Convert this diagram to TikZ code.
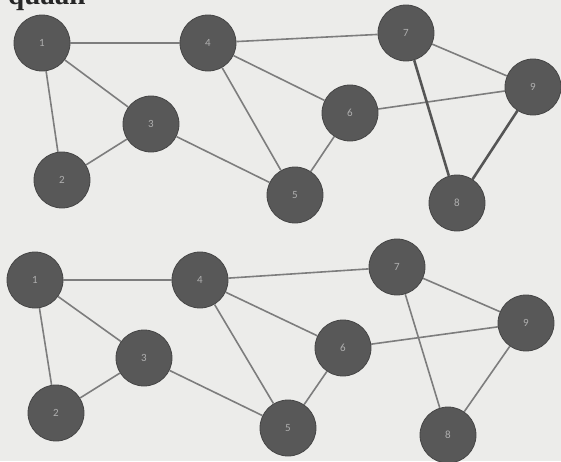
\documentclass[tikz,border=0pt]{standalone}
\usepackage{fontspec}
\setmainfont{Liberation Serif}
\newfontfamily\numfont{Carlito}
\definecolor{bg}{RGB}{236,236,234}
\definecolor{nodefill}{RGB}{88,88,88}
\definecolor{nodeedge}{RGB}{70,70,70}
\definecolor{numcol}{RGB}{175,175,175}
\definecolor{edgecol}{RGB}{125,125,125}
\definecolor{edgedark}{RGB}{85,85,85}
\tikzset{
  vert/.style={circle, fill=nodefill, draw=nodeedge, line width=0.8pt, minimum size=56pt, inner sep=0pt, text=numcol, font=\numfont\fontsize{11}{11}\selectfont},
  link/.style={draw=edgecol, line width=1.6pt},
  linkdark/.style={draw=edgedark, line width=2.6pt}
}
\begin{document}
\begin{tikzpicture}[x=1pt,y=-1pt]
\useasboundingbox (0,0) rectangle (561,461);
\fill[bg] (0,0) rectangle (561,461);
\begin{scope}
\clip (0,0) rectangle (561,461);
\node[anchor=base west, inner sep=0pt, font=\fontsize{29}{29}\selectfont\bfseries, text=black!85] (title) at (8,4) {quaan};
\end{scope}
% top graph
\node[vert] (a1) at (42,43) {1};
\node[vert] (a2) at (62,180) {2};
\node[vert] (a3) at (151,124) {3};
\node[vert] (a4) at (208,43) {4};
\node[vert] (a5) at (295,195) {5};
\node[vert] (a6) at (350,113) {6};
\node[vert] (a7) at (406,33) {7};
\node[vert] (a8) at (457,203) {8};
\node[vert] (a9) at (533,87) {9};
\draw[link] (a1) -- (a4);
\draw[link] (a1) -- (a3);
\draw[link] (a1) -- (a2);
\draw[link] (a2) -- (a3);
\draw[link] (a3) -- (a5);
\draw[link] (a4) -- (a5);
\draw[link] (a4) -- (a6);
\draw[link] (a4) -- (a7);
\draw[link] (a5) -- (a6);
\draw[link] (a6) -- (a9);
\draw[link] (a7) -- (a9);
\draw[linkdark] (a7) -- (a8);
\draw[linkdark] (a8) -- (a9);
% bottom graph
\node[vert] (b1) at (35,280) {1};
\node[vert] (b2) at (56,413) {2};
\node[vert] (b3) at (144,358) {3};
\node[vert] (b4) at (200,280) {4};
\node[vert] (b5) at (288,428) {5};
\node[vert] (b6) at (343,348) {6};
\node[vert] (b7) at (397,267) {7};
\node[vert] (b8) at (448,435) {8};
\node[vert] (b9) at (526,323) {9};
\draw[link] (b1) -- (b4);
\draw[link] (b1) -- (b3);
\draw[link] (b1) -- (b2);
\draw[link] (b2) -- (b3);
\draw[link] (b3) -- (b5);
\draw[link] (b4) -- (b5);
\draw[link] (b4) -- (b6);
\draw[link] (b4) -- (b7);
\draw[link] (b5) -- (b6);
\draw[link] (b6) -- (b9);
\draw[link] (b7) -- (b9);
\draw[link] (b7) -- (b8);
\draw[link] (b8) -- (b9);
\end{tikzpicture}
\end{document}
